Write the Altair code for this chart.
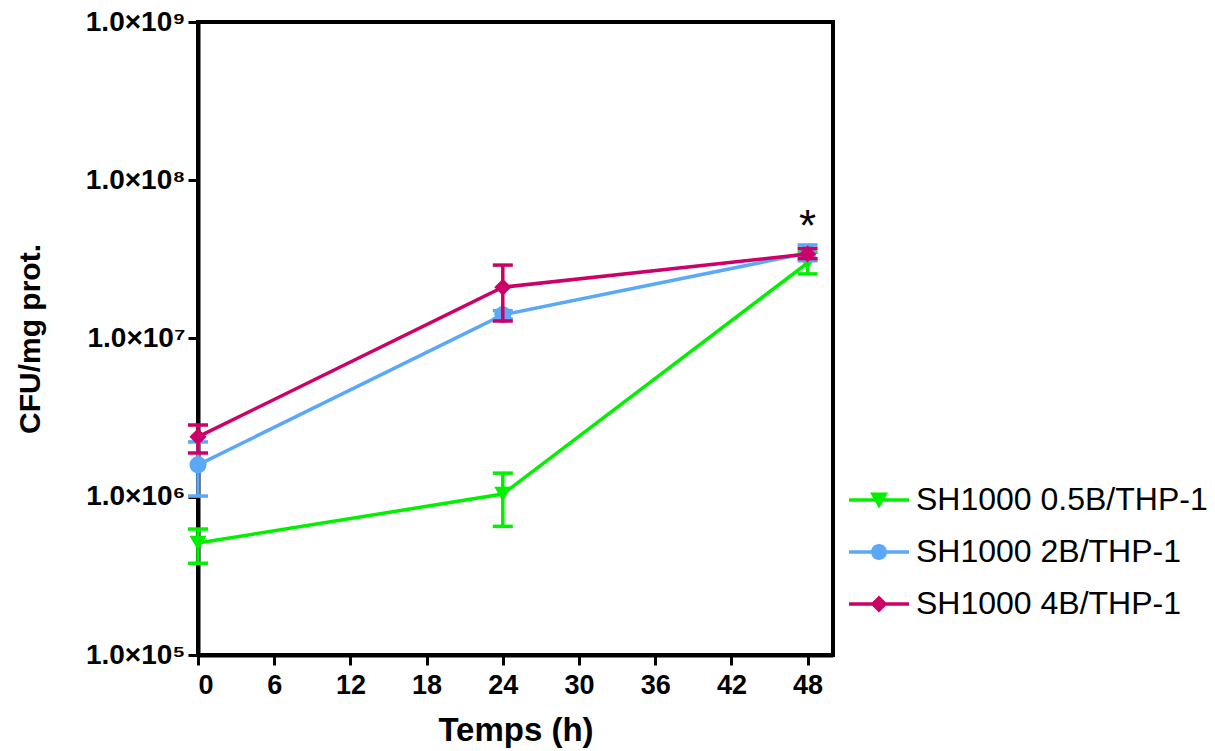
import altair as alt
import pandas as pd

series = ["SH1000 0.5B/THP-1", "SH1000 2B/THP-1", "SH1000 4B/THP-1"]
colors = ["#00F000", "#5CA8F8", "#CC0066"]
shapes = ["triangle-down", "circle", "diamond"]
times = [0, 24, 48]

mean_05 = [5.1e5, 1.04e6, 3.0e7]
lo_05 = [3.8e5, 6.5e5, 2.56e7]
hi_05 = [6.25e5, 1.41e6, 3.5e7]

mean_2 = [1.59e6, 1.41e7, 3.47e7]
lo_2 = [1.01e6, 1.33e7, 3.1e7]
hi_2 = [2.22e6, 1.5e7, 3.9e7]

mean_4 = [2.39e6, 2.11e7, 3.42e7]
lo_4 = [1.89e6, 1.29e7, 3.2e7]
hi_4 = [2.84e6, 2.91e7, 3.7e7]

star_time = [48]
star_value = [5.0e7]

x_ticks = [0, 6, 12, 18, 24, 30, 36, 42, 48]
y_ticks = [1e5, 1e6, 1e7, 1e8, 1e9]

rows = []
for s, m, lo, hi in zip(series, [mean_05, mean_2, mean_4], [lo_05, lo_2, lo_4], [hi_05, hi_2, hi_4]):
    for t, a, b, c in zip(times, m, lo, hi):
        rows.append({"series": s, "t": t, "mean": a, "lo": b, "hi": c})
df = pd.DataFrame(rows)

xscale = alt.Scale(domain=[0, 50], nice=False, zero=False)
yscale = alt.Scale(type="log", domain=[1e5, 1e9], nice=False)
cscale = alt.Scale(domain=series, range=colors)

# legend glyphs: a line through the marker (unit coords scaled by sqrt(size)/2)
p_tri = "M-3,-0.17H3V0.17H-3ZM-0.9,-0.75L0.9,-0.75L0,0.85Z"
p_cir = "M-3,-0.17H3V0.17H-3ZM-0.8,0A0.8,0.8 0 1,1 0.8,0A0.8,0.8 0 1,1 -0.8,0Z"
p_dia = "M-3,-0.17H3V0.17H-3ZM0,-0.85L0.85,0L0,0.85L-0.85,0Z"
lscale = alt.Scale(domain=series, range=[p_tri, p_cir, p_dia])

label_expr = "'1.0×10' + ({5:'⁵',6:'⁶',7:'⁷',8:'⁸',9:'⁹'})[round(log(datum.value)/log(10))]"

x_axis = alt.Axis(values=x_ticks, title="Temps (h)")
y_axis = alt.Axis(values=y_ticks, labelExpr=label_expr, title="CFU/mg prot.")

legend = alt.Legend(
    title=None, orient="none", legendX=665, legendY=462, padding=0,
    labelFont="Liberation Sans", labelFontSize=32, labelColor="black", labelLimit=0,
    symbolSize=400, rowPadding=20, labelOffset=21, symbolOpacity=1, symbolStrokeWidth=0)

X = alt.X("t:Q", scale=xscale, axis=x_axis)
layers = []
for i, s in enumerate(series):
    base = alt.Chart(df).transform_filter(alt.datum.series == s)
    col = colors[i]
    err = base.mark_rule(color=col, strokeWidth=3.5).encode(
        x=X, y=alt.Y("lo:Q", scale=yscale, axis=y_axis), y2="hi:Q")
    cap_lo = base.mark_tick(color=col, size=20, thickness=3.5, orient="horizontal", opacity=1).encode(
        x=X, y=alt.Y("lo:Q", scale=yscale, axis=y_axis))
    cap_hi = base.mark_tick(color=col, size=20, thickness=3.5, orient="horizontal", opacity=1).encode(
        x=X, y=alt.Y("hi:Q", scale=yscale, axis=y_axis))
    line = base.mark_line(color=col, strokeWidth=3.5).encode(
        x=X, y=alt.Y("mean:Q", scale=yscale, axis=y_axis))
    pts = base.mark_point(filled=True, size=290, opacity=1, shape=shapes[i], color=col).encode(
        x=X, y=alt.Y("mean:Q", scale=yscale, axis=y_axis))
    layers += [err, cap_lo, cap_hi, line, pts]

# invisible layer that only carries the legend
leg = alt.Chart(df).mark_point(filled=True, opacity=0).encode(
    x=X, y=alt.Y("mean:Q", scale=yscale, axis=y_axis),
    color=alt.Color("series:N", scale=cscale, legend=legend),
    shape=alt.Shape("series:N", scale=lscale, legend=legend))
layers.append(leg)

star_df = pd.DataFrame({"t": star_time, "v": star_value, "txt": ["*"]})
star = alt.Chart(star_df).mark_text(fontSize=44, font="Liberation Sans", color="black", baseline="middle").encode(
    x=X, y=alt.Y("v:Q", scale=yscale, axis=y_axis), text="txt:N")
layers.append(star)

chart = alt.layer(*layers).properties(
    width=635, height=633,
    background="white",
    autosize=alt.AutoSizeParams(type="none"),
    padding={"left": 198, "top": 22, "right": 382, "bottom": 96},
).configure_view(
    stroke="black", strokeWidth=4
).configure_axis(
    grid=False, domainColor="black", domainWidth=4, tickColor="black", tickWidth=3, tickSize=10,
    labelColor="black", titleColor="black", labelFontWeight="bold", titleFontWeight="bold",
    labelFont="Liberation Sans", titleFont="Liberation Sans",
).configure_axisX(
    labelFontSize=27, titleFontSize=33, labelPadding=7, titlePadding=16,
).configure_axisY(
    labelFontSize=28, titleFontSize=30, labelPadding=3, titlePadding=40,
)

chart.save("out.html", embed_options={"renderer": "svg", "actions": False})
